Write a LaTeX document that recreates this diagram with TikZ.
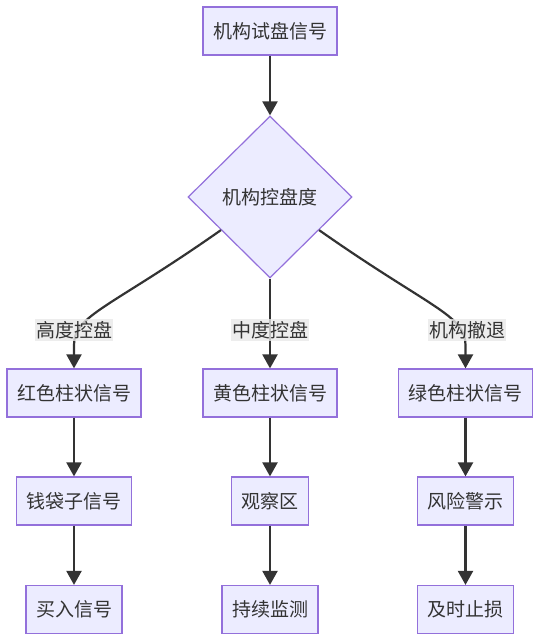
\documentclass[tikz,border=0pt]{standalone}
\usepackage{fontspec}
\setmainfont{Noto Sans CJK SC}
\usetikzlibrary{shapes.geometric,arrows.meta}
\definecolor{nodefill}{HTML}{ECECFF}
\definecolor{nodeborder}{HTML}{9370DB}
\definecolor{linecol}{HTML}{333333}
\definecolor{labelbg}{HTML}{E8E8E8}
\begin{document}
\begin{tikzpicture}[x=1pt,y=-1pt,
  font=\fontsize{19}{22}\selectfont,
  every node/.style={text=linecol},
  box/.style={draw=nodeborder,fill=nodefill,line width=1.2pt,inner xsep=10pt,inner ysep=0pt,minimum height=48pt},
  dec/.style={diamond,draw=nodeborder,fill=nodefill,line width=1.2pt,minimum width=164pt,minimum height=162pt,inner sep=0pt},
  elabel/.style={fill=labelbg,fill opacity=0.8,text opacity=1,inner xsep=1pt,inner ysep=0pt,minimum height=22pt},
  conn/.style={draw=linecol,line width=2.2pt,-{Triangle[length=14pt,width=15pt]}},
  plainconn/.style={draw=linecol,line width=2.2pt}
]
\useasboundingbox (0,0) rectangle (540,640);

\node[box] (top) at (270,31) {机构试盘信号};
\node[dec] (dia) at (270,197) {机构控盘度};

\node[box] (red) at (74,393) {红色柱状信号};
\node[box] (yel) at (270,393) {黄色柱状信号};
\node[box] (grn) at (465.5,393) {绿色柱状信号};

\node[box] (r2) at (74,501) {钱袋子信号};
\node[box] (y2) at (270,501) {观察区};
\node[box] (g2) at (465.5,501) {风险警示};

\node[box] (r3) at (74,609.5) {买入信号};
\node[box] (y3) at (270,609.5) {持续监测};
\node[box] (g3) at (465.5,609.5) {及时止损};

% connectors
\draw[conn] (top) -- (dia.north);
\draw[conn] (dia.214) .. controls (110,308) and (74,315) .. (74,345) -- (red.north);
\draw[conn] (dia.south) -- (yel.north);
\draw[conn] (dia.-34) .. controls (430,308) and (465.5,315) .. (465.5,345) -- (grn.north);

\draw[conn] (red) -- (r2);
\draw[conn] (r2) -- (r3);
\draw[conn] (yel) -- (y2);
\draw[conn] (y2) -- (y3);
\draw[conn] (grn) -- (g2);
\draw[conn] (g2) -- (g3);

% edge labels
\node[elabel] (l1) at (74,330) {高度控盘};
\node[elabel] (l2) at (270,330) {中度控盘};
\node[elabel] (l3) at (467,330) {机构撤退};
\end{tikzpicture}
\end{document}
